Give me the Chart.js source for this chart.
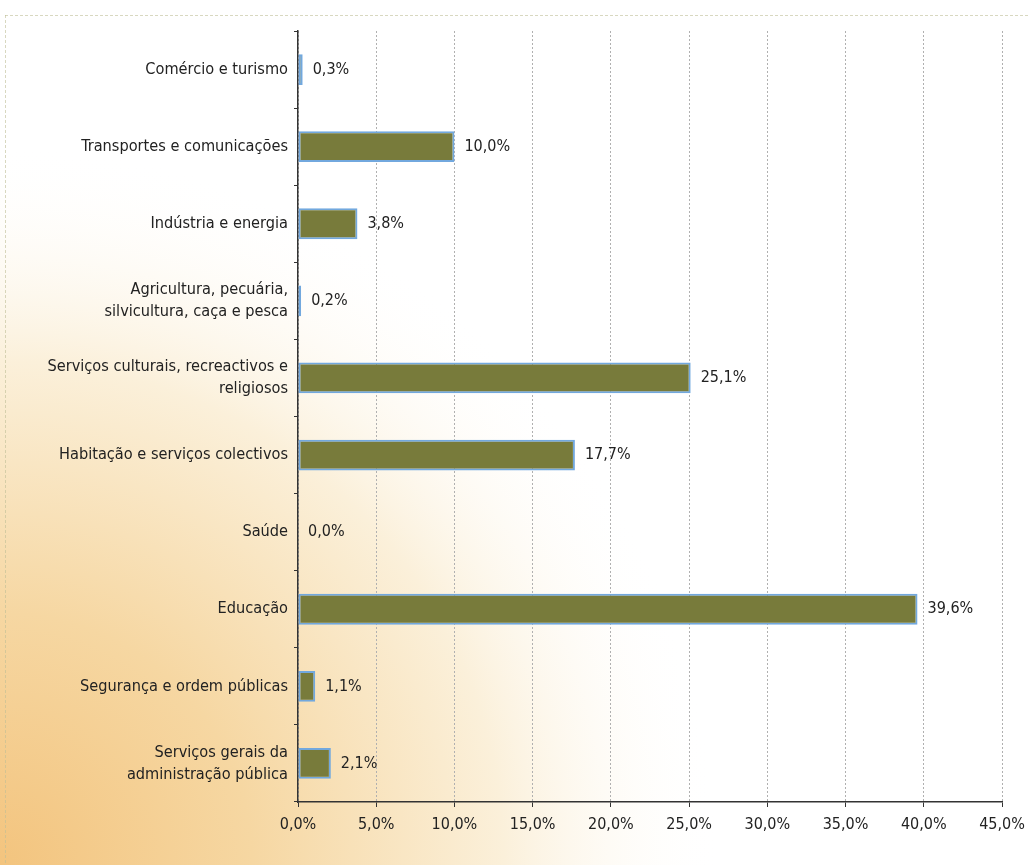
<!DOCTYPE html>
<html>
<head>
<meta charset="utf-8">
<script src="https://cdn.jsdelivr.net/npm/chart.js@4"></script>
<style>
  body { margin: 0; background: #fff; }
  #wrap { width: 1029px; height: 865px; position: relative; }
</style>
</head>
<body>
<div id="wrap"><canvas id="chart"></canvas></div>
<script>
const categories = [
    "Comércio e turismo",
    "Transportes e comunicações",
    "Indústria e energia",
    ["Agricultura, pecuária,", "silvicultura, caça e pesca"],
    ["Serviços culturais, recreactivos e", "religiosos"],
    "Habitação e serviços colectivos",
    "Saúde",
    "Educação",
    "Segurança e ordem públicas",
    ["Serviços gerais da", "administração pública"]
];
const shares = [0.3, 10.0, 3.8, 0.2, 25.1, 17.7, 0.0, 39.6, 1.1, 2.1];
const xTicks = [0, 5, 10, 15, 20, 25, 30, 35, 40, 45];

const fontFamily = "'DejaVu Sans Condensed', 'Liberation Sans Narrow', 'Liberation Sans', sans-serif";

function pct(v) {
    return v.toFixed(1).replace(".", ",") + "%";
}

// paper-like background with the orange glow in the lower left corner
const backgroundPlugin = {
    id: "paper",
    beforeDraw(chart) {
        const ctx = chart.ctx;
        const w = chart.width, h = chart.height;
        ctx.save();
        ctx.fillStyle = "#ffffff";
        ctx.fillRect(0, 0, w, h);
        const g = ctx.createRadialGradient(0, h, 0, 0, h, 720);
        g.addColorStop(0, "#f3c47e");
        g.addColorStop(0.35, "#f6d7a2");
        g.addColorStop(0.7, "#fbf0da");
        g.addColorStop(1, "rgba(255,255,255,0)");
        ctx.fillStyle = g;
        ctx.fillRect(0, 0, w, h);
        // faint frame of the original figure
        ctx.strokeStyle = "rgba(190,190,150,0.6)";
        ctx.lineWidth = 1;
        ctx.setLineDash([3, 2]);
        ctx.beginPath();
        ctx.moveTo(5, 15.5);
        ctx.lineTo(w, 15.5);
        ctx.moveTo(5.5, 15);
        ctx.lineTo(5.5, h);
        ctx.stroke();
        ctx.restore();
    }
};

// value labels to the right of each bar
const valueLabels = {
    id: "valueLabels",
    afterDatasetsDraw(chart) {
        const ctx = chart.ctx;
        const meta = chart.getDatasetMeta(0);
        ctx.save();
        ctx.font = "16px " + fontFamily;
        ctx.fillStyle = "#222";
        ctx.textAlign = "left";
        ctx.textBaseline = "middle";
        meta.data.forEach((bar, i) => {
            ctx.fillText(pct(shares[i]), bar.x + 10, bar.y);
        });
        ctx.restore();
    }
};

new Chart(document.getElementById("chart").getContext("2d"), {
    type: "bar",
    data: {
        labels: categories,
        datasets: [{
            data: shares,
            backgroundColor: "#787b3b",
            borderColor: "#72a8de",
            borderWidth: 2,
            borderSkipped: false,
            barPercentage: 0.8,
            categoryPercentage: 0.5
        }]
    },
    options: {
        indexAxis: "y",
        responsive: true,
        maintainAspectRatio: false,
        animation: false,
        layout: { padding: { top: 31, right: 0, left: 0, bottom: 0 } },
        plugins: {
            legend: { display: false },
            tooltip: { enabled: false }
        },
        scales: {
            x: {
                min: 0,
                max: 45,
                afterBuildTicks(scale) {
                    scale.ticks = xTicks.map(v => ({ value: v }));
                },
                afterFit(scale) {
                    scale.height = 63;
                    scale.paddingRight = 27;
                },
                ticks: {
                    color: "#222",
                    font: { family: fontFamily, size: 16 },
                    padding: 8,
                    callback: v => pct(v)
                },
                grid: {
                    color: "#b0b0b0",
                    lineWidth: 1,
                    drawTicks: true,
                    tickLength: 5,
                    tickColor: "#333"
                },
                border: { display: true, color: "#333", width: 1.5, dash: [2, 2] }
            },
            y: {
                afterFit(scale) { scale.width = 298; },
                ticks: {
                    color: "#222",
                    font: { family: fontFamily, size: 16.2, lineHeight: 1.35 },
                    padding: 6
                },
                grid: {
                    offset: true,
                    drawOnChartArea: false,
                    drawTicks: true,
                    tickLength: 4,
                    color: "#333"
                },
                border: { display: true, color: "#333", width: 1.5 }
            }
        }
    },
    plugins: [backgroundPlugin, valueLabels]
});
</script>
</body>
</html>
